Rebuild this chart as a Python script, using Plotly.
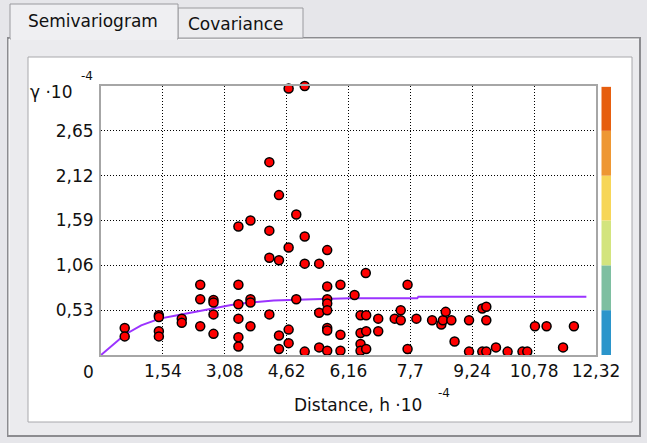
import plotly.graph_objects as go

# ---------------- data ----------------
dist = [0.59, 0.59, 1.44, 1.44, 1.44, 1.44, 2.01, 2.01, 2.47, 2.47, 2.47,
        2.80, 2.80, 2.80, 2.80, 3.42, 3.42, 3.42, 3.42, 3.42, 3.42,
        3.72, 3.72, 3.72, 3.72, 4.19, 4.19, 4.19, 4.19, 4.43, 4.43, 4.43, 4.43,
        4.67, 4.67, 4.67, 4.67, 4.86, 4.86, 5.07, 5.07, 5.07, 5.07,
        5.43, 5.43, 5.43, 5.63, 5.63, 5.63, 5.63, 5.63, 5.63, 5.63, 5.63,
        5.96, 5.96, 5.96, 6.31, 6.59, 6.46, 6.60, 6.90, 6.46, 6.60, 6.90,
        6.46, 6.46, 6.60, 7.46, 7.31, 7.46, 7.63, 7.63, 7.85, 8.24, 8.47,
        8.51, 8.58, 8.72, 8.80, 9.16, 9.16, 9.49, 9.59, 9.59, 9.49, 9.59,
        9.83, 10.12, 10.49, 10.61, 10.80, 11.09, 11.50, 11.77]
gamma = [0.32, 0.22, 0.47, 0.45, 0.28, 0.22, 0.43, 0.38, 0.83, 0.66, 0.34,
         0.65, 0.62, 0.48, 0.25, 1.52, 0.83, 0.60, 0.43, 0.21, 0.10,
         1.59, 0.66, 0.62, 0.34, 2.28, 1.47, 1.15, 0.48, 1.89, 1.12, 0.23, 0.07,
         3.15, 1.27, 0.30, 0.14, 1.66, 0.66, 3.18, 1.40, 1.08, 0.04,
         1.08, 0.50, 0.09, 1.24, 0.81, 0.66, 0.61, 0.53, 0.32, 0.29, 0.05,
         0.83, 0.24, 0.05, 0.71, 0.97, 0.47, 0.47, 0.43, 0.26, 0.28, 0.28,
         0.13, 0.05, 0.07, 0.53, 0.43, 0.41, 0.83, 0.07, 0.43, 0.41, 0.36,
         0.41, 0.51, 0.41, 0.16, 0.41, 0.04, 0.55, 0.57, 0.41, 0.04, 0.04,
         0.09, 0.04, 0.04, 0.04, 0.34, 0.34, 0.09, 0.34]

model_h = [0, 0.30, 0.59, 1.00, 1.46, 1.90, 2.33, 2.80, 3.24, 3.70, 4.30,
           5.28, 6.20, 7.87, 7.90, 12.08]
model_g = [0, 0.12, 0.24, 0.35, 0.43, 0.47, 0.51, 0.55, 0.59, 0.62, 0.645,
           0.66, 0.67, 0.67, 0.69, 0.69]

x_ticks = [1.54, 3.08, 4.62, 6.16, 7.70, 9.24, 10.78, 12.32]
x_ticktext = ["1,54", "3,08", "4,62", "6,16", "7,7", "9,24", "10,78", "12,32"]
y_ticks = [0.53, 1.06, 1.59, 2.12, 2.65, 3.18]
y_ticktext = ["0,53", "1,06", "1,59", "2,12", "2,65", ""]

legend_colors = ["#2B95CB", "#7EBFA1", "#D3E47E", "#F7D658", "#EE9733", "#E65E0F"]
legend_edges = [0, 0.53, 1.06, 1.59, 2.12, 2.65, 3.17]

tab_labels = ["Semivariogram", "Covariance"]

# ---------------- layout geometry ----------------
W, H = 647, 443
L, R, T, B = 101, 51, 86, 88
PW, PH = W - L - R, H - T - B


def px(x):
    return (x - L) / PW


def py(y):
    return (H - B - y) / PH


FONT = "DejaVu Sans"
fig = go.Figure()

fig.add_trace(go.Scatter(x=model_h, y=model_g, mode="lines",
                         line=dict(color="#9B33FF", width=2),
                         hoverinfo="skip", cliponaxis=False))
fig.add_trace(go.Scatter(x=dist, y=gamma, mode="markers",
                         marker=dict(color="#FF0000", size=9,
                                     line=dict(color="black", width=1.5)),
                         cliponaxis=False))

shapes = []
# tab page frame
shapes.append(dict(type="rect", xref="paper", yref="paper", layer="below",
                   x0=px(8), x1=px(640), y0=py(436), y1=py(38),
                   fillcolor="#EBEBEE", line=dict(color="#8C8C90", width=2)))
shapes.append(dict(type="line", xref="paper", yref="paper", layer="below",
                   x0=px(9), x1=px(639), y0=py(39), y1=py(39),
                   line=dict(color="#FFFFFF", width=1)))
shapes.append(dict(type="line", xref="paper", yref="paper", layer="below",
                   x0=px(9), x1=px(9), y0=py(39), y1=py(435),
                   line=dict(color="#FFFFFF", width=1)))
# white panel
shapes.append(dict(type="rect", xref="paper", yref="paper", layer="below",
                   x0=px(28), x1=px(632), y0=py(422), y1=py(57),
                   fillcolor="#FFFFFF", line=dict(color="#A8A8AC", width=1)))
# tabs
shapes.append(dict(type="rect", xref="paper", yref="paper", layer="below",
                   x0=px(178), x1=px(303), y0=py(38), y1=py(8),
                   fillcolor="#ECECEF", line=dict(color="#9A9A9E", width=1)))
shapes.append(dict(type="rect", xref="paper", yref="paper", layer="below",
                   x0=px(10), x1=px(178), y0=py(39), y1=py(4),
                   fillcolor="#EFEFF2", line=dict(color="#9A9A9E", width=1)))
shapes.append(dict(type="line", xref="paper", yref="paper", layer="below",
                   x0=px(11), x1=px(177), y0=py(39), y1=py(39),
                   line=dict(color="#EFEFF2", width=2)))
# colour legend bar
for i, c in enumerate(legend_colors):
    shapes.append(dict(type="rect", xref="paper", yref="y", layer="above",
                       x0=px(601.5), x1=px(611), y0=legend_edges[i],
                       y1=legend_edges[i + 1], fillcolor=c, line=dict(width=0)))


def ann(text, x, y, size=17, xanchor="left"):
    return dict(text=text, x=px(x), y=py(y), xref="paper", yref="paper",
                xanchor=xanchor, yanchor="middle", showarrow=False,
                font=dict(family=FONT, size=size, color="#111"))


annotations = [
    ann("0", 88, 372, xanchor="center"),
    ann("γ ·10", 28, 92),
    ann("-4", 79, 76, size=12),
    ann("Distance, h ·10", 292, 405),
    ann("-4", 436, 393, size=12),
    ann(tab_labels[0], 26, 21),
    ann(tab_labels[1], 186, 24),
]

fig.update_layout(
    template="none",
    width=W, height=H,
    margin=dict(l=L, r=R, t=T, b=B, pad=0, autoexpand=False),
    paper_bgcolor="#E6E6EA",
    plot_bgcolor="#FFFFFF",
    showlegend=False,
    shapes=shapes,
    annotations=annotations,
    font=dict(family=FONT, size=17, color="#111"),
    xaxis=dict(range=[0, 12.32], tickvals=x_ticks, ticktext=x_ticktext,
               showgrid=True, gridcolor="#000000", griddash="1px,2px",
               gridwidth=1, zeroline=False, showline=True, mirror=True,
               linecolor="#A6A6A6", linewidth=2, ticks="", automargin=False,
               ticklabelstandoff=0, fixedrange=True),
    yaxis=dict(range=[0, 3.18], tickvals=y_ticks, ticktext=y_ticktext,
               showgrid=True, gridcolor="#000000", griddash="1px,2px",
               gridwidth=1, zeroline=False, showline=True, mirror=True,
               linecolor="#A6A6A6", linewidth=2, ticks="", automargin=False,
               ticklabelstandoff=2, fixedrange=True),
)

fig.write_html("out.html", config={"displayModeBar": False},
               post_script="document.body.style.margin='0';"
                           "document.body.style.overflow='hidden';")
